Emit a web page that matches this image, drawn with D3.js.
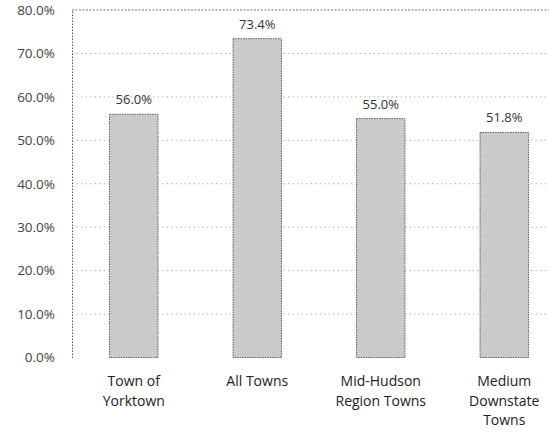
<!DOCTYPE html>
<html><head><meta charset="utf-8">
<script src="https://cdn.jsdelivr.net/npm/d3@7"></script>
<style>body{margin:0;background:#fff}svg{display:block}</style>
</head><body>
<svg id="c" width="549" height="432"></svg>
<script>
const categories = [["Town of","Yorktown"],["All Towns"],["Mid-Hudson","Region Towns"],["Medium","Downstate","Towns"]];
const values = [56.0, 73.4, 55.0, 51.8];
const yTicks = [0,10,20,30,40,50,60,70,80];

const svg = d3.select("#c");
const font = "'Open Sans', sans-serif";
const x = d3.scaleBand().domain(d3.range(categories.length)).range([72,566]).paddingInner(0.6).paddingOuter(0.3);
const y = d3.scaleLinear().domain([0,80]).range([357.5,10]);

// gridlines
svg.append("g").selectAll("line").data(yTicks.filter(d=>d>0)).join("line")
  .attr("x1",72).attr("x2",549).attr("y1",d=>y(d)).attr("y2",d=>y(d))
  .attr("stroke",d=>d===80?"#777":"#b5b5b5").attr("stroke-width",1)
  .attr("stroke-dasharray",d=>d===80?"2,1.5":"1.5,3");

// y axis
const yAxis = d3.axisLeft(y).tickValues(yTicks).tickFormat(d=>d.toFixed(1)+"%").tickSize(0).tickPadding(17);
const ga = svg.append("g").attr("transform","translate(72,0)").call(yAxis);
ga.select(".domain").attr("stroke","#555").attr("stroke-dasharray","1.5,1.5");
ga.selectAll("text").attr("font-family",font).attr("font-size","13.5px").attr("fill","#444");

// bars
svg.append("g").selectAll("rect").data(values).join("rect")
  .attr("x",(d,i)=>x(i)+0.5).attr("y",d=>y(d)).attr("width",x.bandwidth()-1).attr("height",d=>y(0)-y(d))
  .attr("fill","#c9cbca").attr("stroke","#5a5a5a").attr("stroke-width",1).attr("stroke-dasharray","1.5,1");

// value labels
svg.append("g").selectAll("text").data(values).join("text")
  .attr("x",(d,i)=>x(i)+x.bandwidth()/2).attr("y",d=>y(d)-10)
  .attr("text-anchor","middle").attr("font-family",font).attr("font-size","13px").attr("fill","#333")
  .text(d=>d.toFixed(1)+"%");

// category labels
const cl = svg.append("g").selectAll("text").data(categories).join("text")
  .attr("x",(d,i)=>x(i)+x.bandwidth()/2).attr("y",386)
  .attr("text-anchor","middle").attr("font-family",font).attr("font-size","14px").attr("fill","#222");
cl.selectAll("tspan").data(d=>d).join("tspan")
  .attr("x",function(){return this.parentNode.getAttribute("x");})
  .attr("dy",(d,i)=>i===0?0:19.5).text(d=>d);
</script>
</body></html>
